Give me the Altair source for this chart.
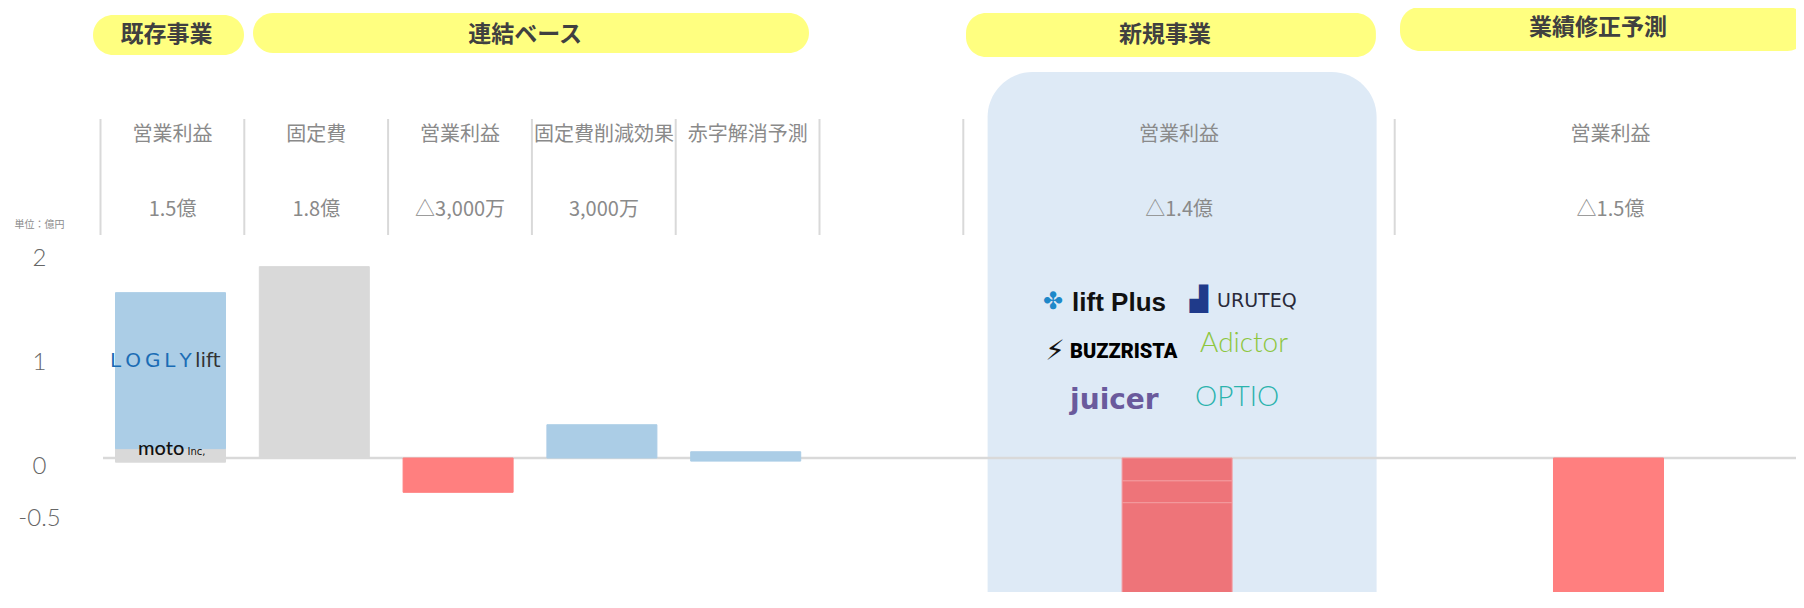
import altair as alt
import pandas as pd

# ---------------- data ----------------
cols = [f"c{i}" for i in range(12)]
col_titles = ["営業利益", "固定費", "営業利益", "固定費削減効果", "赤字解消予測", "", "",
              "営業利益", "", "", "営業利益", ""]
col_values = ["1.5億", "1.8億", "△3,000万", "3,000万", "", "", "",
              "△1.4億", "", "", "△1.5億", ""]
sep_cols = ["c0", "c1", "c2", "c3", "c4", "c5", "c6", "c9"]

group_labels = ["既存事業", "連結ベース", "新規事業", "業績修正予測"]
group_start = ["c0", "c1", "c6", "c9"]
group_end = ["c0", "c4", "c8", "c11"]
group_anchor = ["c0", "c2", "c7", "c10"]

bar_cols = ["c0", "c0", "c1", "c2", "c3", "c4", "c7", "c7", "c7", "c10"]
bar_low = [-0.04, 0.09, 0.0, -0.33, 0.0, -0.03, -0.22, -0.43, -1.30, -1.50]
bar_high = [0.09, 1.59, 1.84, 0.0, 0.32, 0.06, 0.0, -0.22, -0.43, 0.0]
bar_kind = ["moto", "logly", "cost", "loss", "gain", "gain", "new", "new", "new", "forecast"]

y_ticks = [2, 1, 0, -0.5]

existing_logos = ["L\u2009O\u2009G\u2009L\u2009Y", "lift", "moto", "Inc,"]
new_logos = ["lift Plus", "URUTEQ", "BUZZRISTA", "Adictor", "juicer", "OPTIO"]
new_icons = ["\u2724", "\u259F", "\u26A1"]

# ---------------- style ----------------
JP = "Noto Sans CJK JP"
kinds = ["moto", "logly", "cost", "loss", "gain", "new", "forecast"]
fills = ["#D9D9D9", "#ABCDE6", "#D9D9D9", "#FF7F7F", "#ABCDE6", "#EE7479", "#FF7F7F"]
strokes = ["#D9D9D9", "#ABCDE6", "#D9D9D9", "#FF7F7F", "#ABCDE6", "#F39B9E", "#FF7F7F"]

xscale = alt.Scale(type="band", domain=cols, range=[12.5, 1704.3],
                   paddingInner=0.235, paddingOuter=0, round=False)
yscale = alt.Scale(domain=[-134 / 104, 450 / 104], nice=False, zero=False)

yaxis = alt.Axis(values=y_ticks, title="単位：億円", titleAngle=0, titleX=-64, titleY=216,
                 titleAlign="center", titleBaseline="middle", titleFontSize=10,
                 titleFontWeight="normal", titleColor="#8c8c8c", titleFont=JP,
                 labelFont="Lato", labelFontWeight=300, labelFontSize=24, labelColor="#666666",
                 labelAlign="center", labelPadding=64, labelOffset=8,
                 labelExpr="datum.value < 0 ? '-' + format(-datum.value, '~g') : format(datum.value, '~g')",
                 ticks=False, tickSize=0, domain=False, grid=False)


def X(field, **kw):
    return alt.X(field, scale=xscale, axis=None, **kw)


layers = []

# light-blue panel behind the new-business column
panel = alt.Chart(pd.DataFrame({"col": ["c7"]})).mark_bar(
    width=389, cornerRadius=45, color="#DEEAF6", xOffset=5
).encode(x=X("col:N"), y=alt.value(64), y2=alt.value(700))
layers.append(panel)

# yellow group pills
pill_layout = [  # (y0, y1, xOffset, x2Offset, text y, text dx)
    (7, 47, -22.5, 18.5, 27, -4),
    (5, 45, -6.3, 8.3, 27, 67),
    (5, 49, -12.3, 0, 26.5, -12),
    (-1, 43, -9.7, 0, 20, -10.5),
]
for i, lab in enumerate(group_labels):
    y0, y1, xo, x2o, ty, tdx = pill_layout[i]
    df = pd.DataFrame({"start": [group_start[i]], "end": [group_end[i]],
                       "anchor": [group_anchor[i]], "label": [lab]})
    rect = alt.Chart(df).mark_rect(cornerRadius=20, color="#FFFF80", xOffset=xo, x2Offset=x2o).encode(
        x=X("start:N", bandPosition=0), x2=alt.X2("end:N", bandPosition=1),
        y=alt.value(y0), y2=alt.value(y1))
    txt = alt.Chart(df).mark_text(font=JP, fontSize=23, fontWeight="bold", color="#404040",
                                  dx=tdx, baseline="middle").encode(
        x=X("anchor:N"), y=alt.value(ty), text="label:N")
    layers += [rect, txt]

# separators
seps = alt.Chart(pd.DataFrame({"col": sep_cols})).mark_rule(
    color="#D9D9D9", strokeWidth=2, xOffset=-15
).encode(x=X("col:N", bandPosition=0), y=alt.value(111), y2=alt.value(227))
layers.append(seps)

# header texts
hdr = pd.DataFrame({"col": cols, "title": col_titles, "value": col_values})
layers.append(alt.Chart(hdr).mark_text(font=JP, fontSize=20, color="#8a8a8a", dx=2, baseline="middle")
              .encode(x=X("col:N"), y=alt.value(127), text="title:N"))
layers.append(alt.Chart(hdr).mark_text(font=JP, fontSize=20, color="#8a8a8a", dx=2, baseline="middle")
              .encode(x=X("col:N"), y=alt.value(202), text="value:N"))

# zero line
layers.append(alt.Chart(pd.DataFrame({"v": [0]})).mark_rule(color="#D9D9D9", strokeWidth=2.5)
              .encode(y=alt.Y("v:Q", scale=yscale, axis=yaxis)))

# bars
bars_df = pd.DataFrame({"col": bar_cols, "low": bar_low, "high": bar_high, "kind": bar_kind})
layers.append(alt.Chart(bars_df).mark_bar(clip=True, strokeWidth=1).encode(
    x=X("col:N"),
    y=alt.Y("low:Q", scale=yscale, axis=yaxis),
    y2="high:Q",
    color=alt.Color("kind:N", scale=alt.Scale(domain=kinds, range=fills), legend=None),
    stroke=alt.Stroke("kind:N", scale=alt.Scale(domain=kinds, range=strokes), legend=None),
))


def logo(col, text, dx, y, size, color, font, weight="normal", align="left", baseline="middle"):
    return alt.Chart(pd.DataFrame({"col": [col], "t": [text]})).mark_text(
        align=align, baseline=baseline, dx=dx, font=font, fontSize=size,
        fontWeight=weight, color=color
    ).encode(x=X("col:N"), y=alt.value(y), text="t:N")


# logos on the existing-business bar
layers += [
    logo("c0", existing_logos[0], -60.5, 352.5, 20, "#1A6CB5", "DejaVu Sans"),
    logo("c0", existing_logos[1], 24.5, 352.5, 20, "#333333", "DejaVu Sans"),
    logo("c0", existing_logos[2], -32.5, 447, 20, "#111111", "Lato", weight=500, baseline="alphabetic"),
    logo("c0", existing_logos[3], 17, 447, 10, "#111111", "DejaVu Sans", baseline="alphabetic"),
]

# logos of new businesses
layers += [
    logo("c7", new_icons[0], -124, 294, 24, "#1E88C9", "DejaVu Sans", align="center"),
    logo("c7", new_logos[0], -105, 295, 26, "#111111", "Liberation Sans", weight="bold"),
    logo("c7", new_icons[1], 22, 292, 24, "#1F3A8A", "DejaVu Sans", align="center"),
    logo("c7", new_logos[1], 40, 293, 19, "#2A2A3A", "DejaVu Sans"),
    logo("c7", new_icons[2], -122, 344, 28, "#111111", "DejaVu Sans", align="center"),
    logo("c7", new_logos[2], -107, 344, 20, "#000000", "Roboto", weight=900),
    logo("c7", new_logos[3], 23, 336, 28, "#8DC63F", "Lato", weight=300),
    logo("c7", new_logos[4], -107, 393, 28, "#6A5A9C", "DejaVu Sans", weight="bold"),
    logo("c7", new_logos[5], 18, 390, 28, "#2BB3AD", "Lato", weight=300),
]

chart = alt.layer(*layers).properties(
    width=1693, height=584,
    autosize=alt.AutoSizeParams(type="none"),
    padding={"left": 95, "top": 0, "right": 0, "bottom": 0},
).configure_view(stroke=None)

chart.save("out.html", embed_options={"renderer": "svg", "actions": False})
